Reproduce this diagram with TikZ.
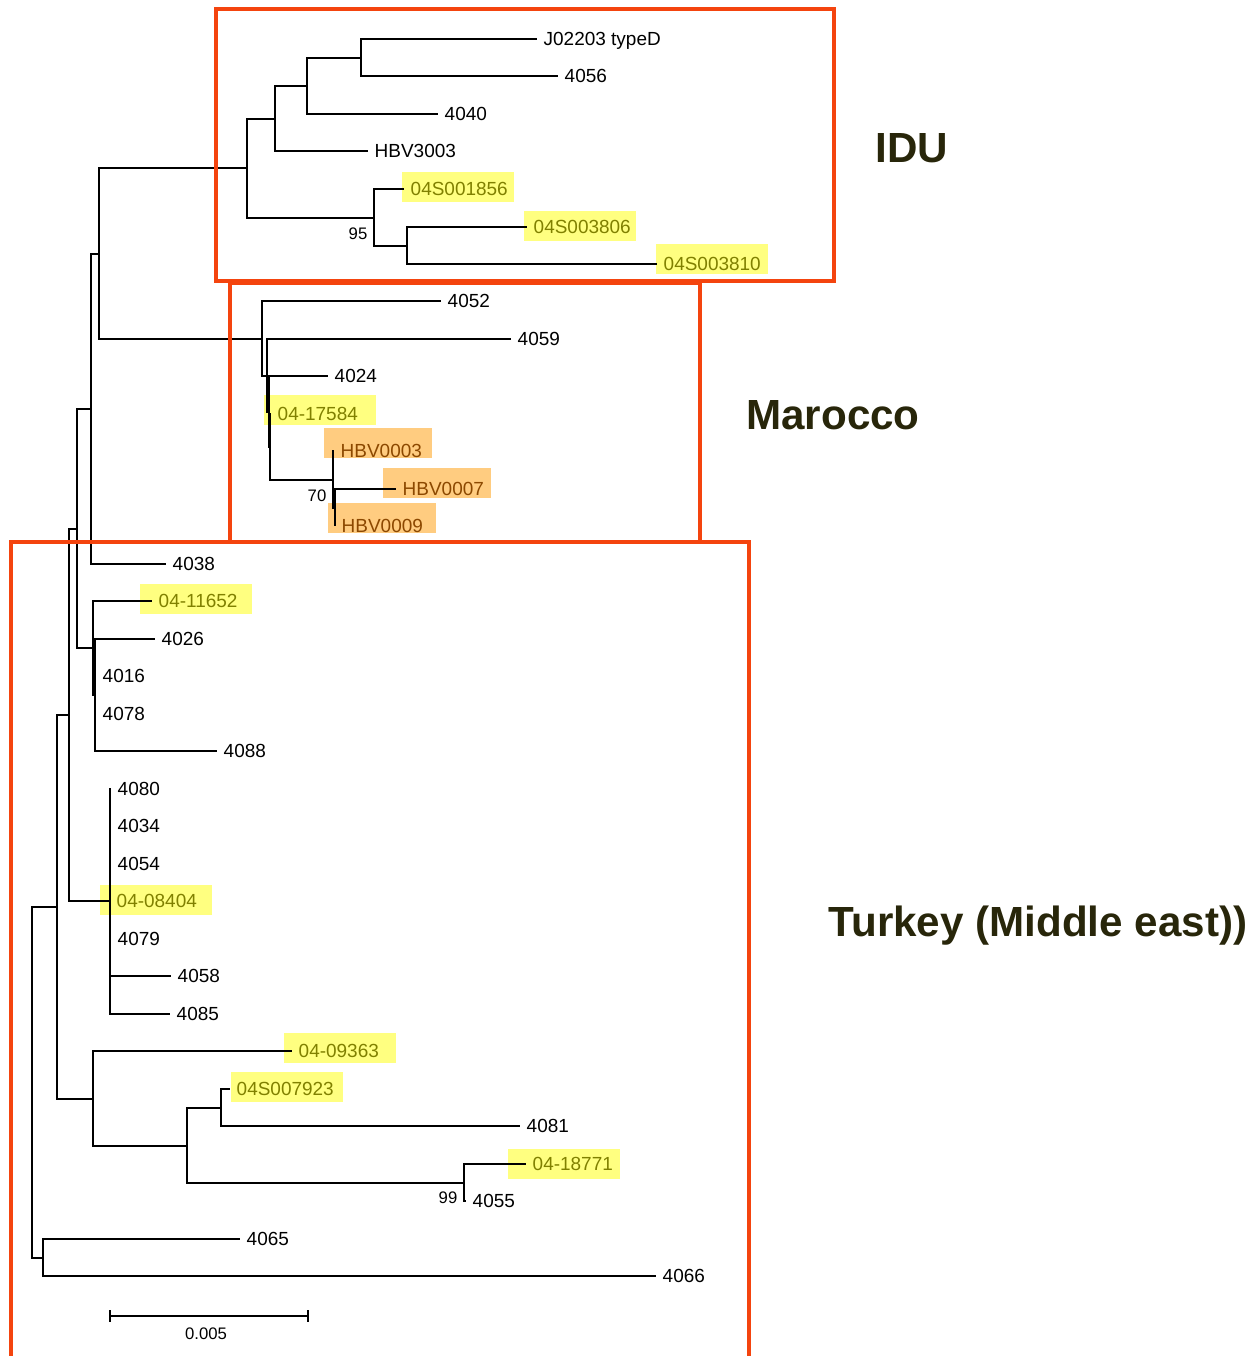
\documentclass[tikz,border=0pt]{standalone}
\usepackage{fontspec}
\setmainfont{Liberation Sans}
\definecolor{boxred}{RGB}{244,68,14}
\definecolor{hlyellow}{RGB}{255,255,128}
\definecolor{hlolive}{RGB}{128,128,0}
\definecolor{hlorange}{RGB}{255,204,128}
\definecolor{hlbrown}{RGB}{140,72,0}
\definecolor{grptext}{RGB}{40,38,10}

\begin{document}
\begin{tikzpicture}[x=0.02cm,y=-0.02cm,line width=0.8pt]
                \tikzstyle{leaf}=[anchor=west,inner xsep=0.12cm,inner ysep=0pt,text height=0.72em,text depth=0pt,font=\fontsize{10.8}{13}\selectfont]
                \tikzstyle{hlbox}=[anchor=west,inner sep=0pt,minimum width=2.24cm,minimum height=0.6cm,fill=hlyellow]
                \tikzstyle{hlbox2}=[hlbox,minimum width=2.16cm,fill=hlorange]
                \tikzstyle{boot}=[font=\fontsize{9.5}{11}\selectfont]
                \tikzstyle{group}=[font=\fontsize{24}{28}\selectfont\bfseries,text=grptext]
                \tikzstyle{grpbox}=[draw=boxred,line width=2.8pt]
                \useasboundingbox (0,0) rectangle (1257,1356);

                % highlights
                \foreach \nm/\x/\y in {04S001856/401/187, 04S003806/523/226, 04S003810/655/259, 04-17584/263/409.5,
                        04-11652/139/599, 04-08404/99/899.5, 04-09363/283/1047.5, 04S007923/230/1086.5, 04-18771/507/1163.5}
                        \node[hlbox] (h-\nm) at (\x,\y) {};
                \foreach \nm/\x/\y in {HBV0003/323/442.5, HBV0007/382/482.5, HBV0009/327/517.5}
                        \node[hlbox2] (h-\nm) at (\x,\y) {};

                % leaves
                \foreach \nm/\x/\y in {4056/558/76, 4040/438/114, HBV3003/368/151, 4052/441/301, 4059/511/339,
                        4024/328/376, 4038/166/564, 4026/155/639, 4016/96/676, 4078/96/714, 4088/217/751,
                        4080/111/789, 4034/111/826, 4054/111/864, 4079/111/939, 4058/171/976, 4085/170/1014,
                        4081/520/1126, 4055/466/1201, 4065/240/1239, 4066/656/1276}
                        \node[leaf] (t-\nm) at (\x,\y) {\nm};
                \node[leaf] (t-J02203) at (537,39) {J02203 typeD};
                \foreach \nm/\x/\y in {04S001856/404/189, 04S003806/527/227, 04S003810/657/264, 04-17584/271/414,
                        04-11652/152/601, 04-08404/110/901, 04-09363/292/1051, 04S007923/230/1089, 04-18771/526/1164}
                        \node[leaf,text=hlolive] (t-\nm) at (\x,\y) {\nm};
                \foreach \nm/\x/\y in {HBV0003/334/451, HBV0007/396/489, HBV0009/335/526}
                        \node[leaf,text=hlbrown] (t-\nm) at (\x,\y) {\nm};

                % inner nodes
                \foreach \nm/\x/\y in {a/361/58, b/307/86, c/275/119, d/407/246, e/374/218, f/247/168, g/99/254,
                        h/91/409, i/77/529, j/69/715, k/57/907, m/262/339, n/267/376, o/269/412, p/270/447,
                        q/333/480, r/335/508, s/93/648, t/95/695, u/110/901, v/93/1099, w/187/1146,
                        x/221/1108, y/464/1183, z/43/1258, root/32/1083}
                        \coordinate (n-\nm) at (\x,\y);

                \foreach \from/\to in {a/t-J02203, a/t-4056, b/n-a, b/t-4040, c/n-b, c/t-HBV3003,
                        d/t-04S003806, d/t-04S003810, e/t-04S001856, e/n-d, f/n-c, f/n-e,
                        g/n-f, g/n-m, h/n-g, h/t-4038, i/n-h, i/n-s, j/n-i, j/n-u, k/n-j, k/n-v, root/n-k, root/n-z,
                        m/t-4052, m/n-n, n/t-4059, n/n-o, o/t-4024, o/n-p, p/t-04-17584, p/n-q,
                        q/t-HBV0003, q/n-r, r/t-HBV0007, r/t-HBV0009,
                        s/t-04-11652, s/n-t, t/t-4026, t/t-4016, t/t-4078, t/t-4088,
                        u/t-4080, u/t-4034, u/t-4054, u/t-04-08404, u/t-4079, u/t-4058, u/t-4085,
                        v/t-04-09363, v/n-w, w/n-x, w/n-y, x/t-04S007923, x/t-4081, y/t-04-18771, y/t-4055,
                        z/t-4065, z/t-4066}
                        \draw (n-\from) |- (\to);

                \node[boot] (bs-95) at (358,234) {95};
                \node[boot] (bs-70) at (317,496) {70};
                \node[boot] (bs-99) at (448,1198) {99};

                % scale bar
                \coordinate (sb-l) at (110,1316);
                \coordinate (sb-r) at (308,1316);
                \draw (sb-l) -- (sb-r);
                \draw (sb-l) ++(0,-6) -- ++(0,12);
                \draw (sb-r) ++(0,-6) -- ++(0,12);
                \node[boot] (sb-txt) at (206,1334) {0.005};

                % groups
                \draw[grpbox] (216,9) rectangle (834,281);
                \draw[grpbox] (230,283) rectangle (700,542);
                \draw[grpbox] (11,1362) -- (11,542) -- (749,542) -- (749,1362);
                \node[group] (g-idu) at (912,148) {IDU};
                \node[group] (g-mar) at (833,415) {Marocco};
                \node[group] (g-tur) at (1038,926) {Turkey (Middle east))};
\end{tikzpicture}
\end{document}
